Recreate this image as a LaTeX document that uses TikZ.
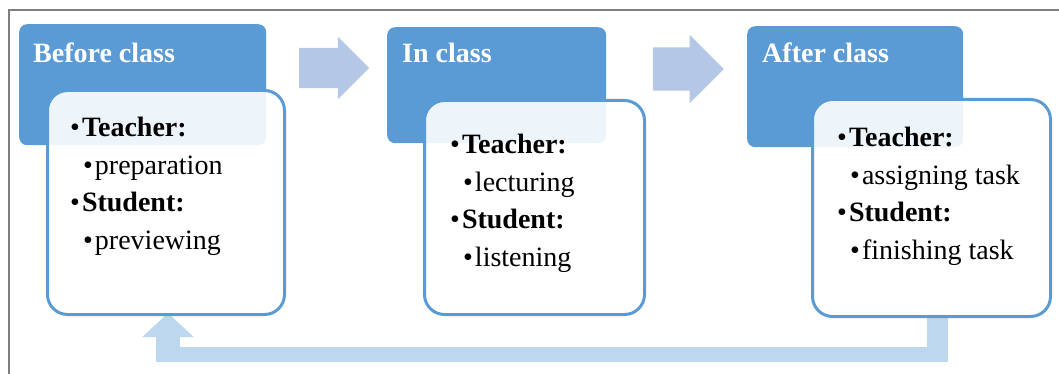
\documentclass[tikz,border=0pt]{standalone}
\usepackage{fontspec}
\setmainfont{Liberation Serif}
\usetikzlibrary{shapes.arrows,arrows.meta}

\definecolor{hdblue}{RGB}{91,155,213}
\definecolor{arrblue}{RGB}{180,199,231}
\definecolor{fbblue}{RGB}{189,215,238}
\definecolor{framegray}{RGB}{127,127,127}

\newcommand{\bitem}[1]{\textbullet\kern2pt\textbf{#1}}
\newcommand{\sitem}[1]{\hspace*{13pt}\textbullet\kern2pt #1}

\tikzset{
  header/.style={fill=hdblue, rounded corners=8, anchor=north west, inner sep=0},
  hdtext/.style={text=white, font=\fontsize{28}{37}\selectfont\bfseries, anchor=base west, inner sep=0},
  body/.style={draw=hdblue, line width=3, fill=white, fill opacity=0.9, rounded corners=20, anchor=north west, inner sep=0},
  bodytext/.style={font=\fontsize{28}{37.5}\selectfont, align=left, anchor=base west, inner sep=0},
  blockarrow/.style={single arrow, fill=arrblue, single arrow tip angle=90, inner xsep=0, text height=0, text depth=0},
  fbline/.style={draw=fbblue, line width=15}
}

\begin{document}
\begin{tikzpicture}[x=1pt, y=-1pt]
\useasboundingbox (0,0) rectangle (1059,374);
%
             \draw[framegray, line width=2] (1059,10) -- (9,10) -- (9,374);
%
             \node [header, minimum width=247, minimum height=121] at (19,24) (hdA) {};
             \node [header, minimum width=219, minimum height=116] at (387,27) (hdB) {};
             \node [header, minimum width=216, minimum height=121] at (747,26) (hdC) {};
             \node [hdtext] at (33,63) (tA) {Before class};
             \node [hdtext] at (402,63) (tB) {In class};
             \node [hdtext] at (762,63) (tC) {After class};
%
             \node [blockarrow, inner ysep=20, minimum height=70, single arrow head extend=11] at (324,68) (arrA) {};
             \node [blockarrow, inner ysep=21.5, minimum height=71, single arrow head extend=12.5] at (677.5,69) (arrB) {};
%
             \draw[fbline, line width=21] (937.5,314) -- (937.5,362);
             \draw[fbline] (937.5,354.5) -- (168,354.5);
             \draw[fbline, line width=24, -{Triangle[width=50pt, length=24pt]}] (168,362) -- (168,313);
%
             \node [body, minimum width=237, minimum height=224] at (46,89) (boxA) {};
             \node [body, minimum width=220, minimum height=214] at (423,99) (boxB) {};
             \node [body, minimum width=238, minimum height=217] at (811,98) (boxC) {};
%
             \node [bodytext] at (70,249) (lA) {\bitem{Teacher:}\\ \sitem{preparation}\\ \bitem{Student:}\\ \sitem{previewing}};
             \node [bodytext] at (450,266) (lB) {\bitem{Teacher:}\\ \sitem{lecturing}\\ \bitem{Student:}\\ \sitem{listening}};
             \node [bodytext] at (837,259) (lC) {\bitem{Teacher:}\\ \sitem{assigning task}\\ \bitem{Student:}\\ \sitem{finishing task}};
\end{tikzpicture}
\end{document}
